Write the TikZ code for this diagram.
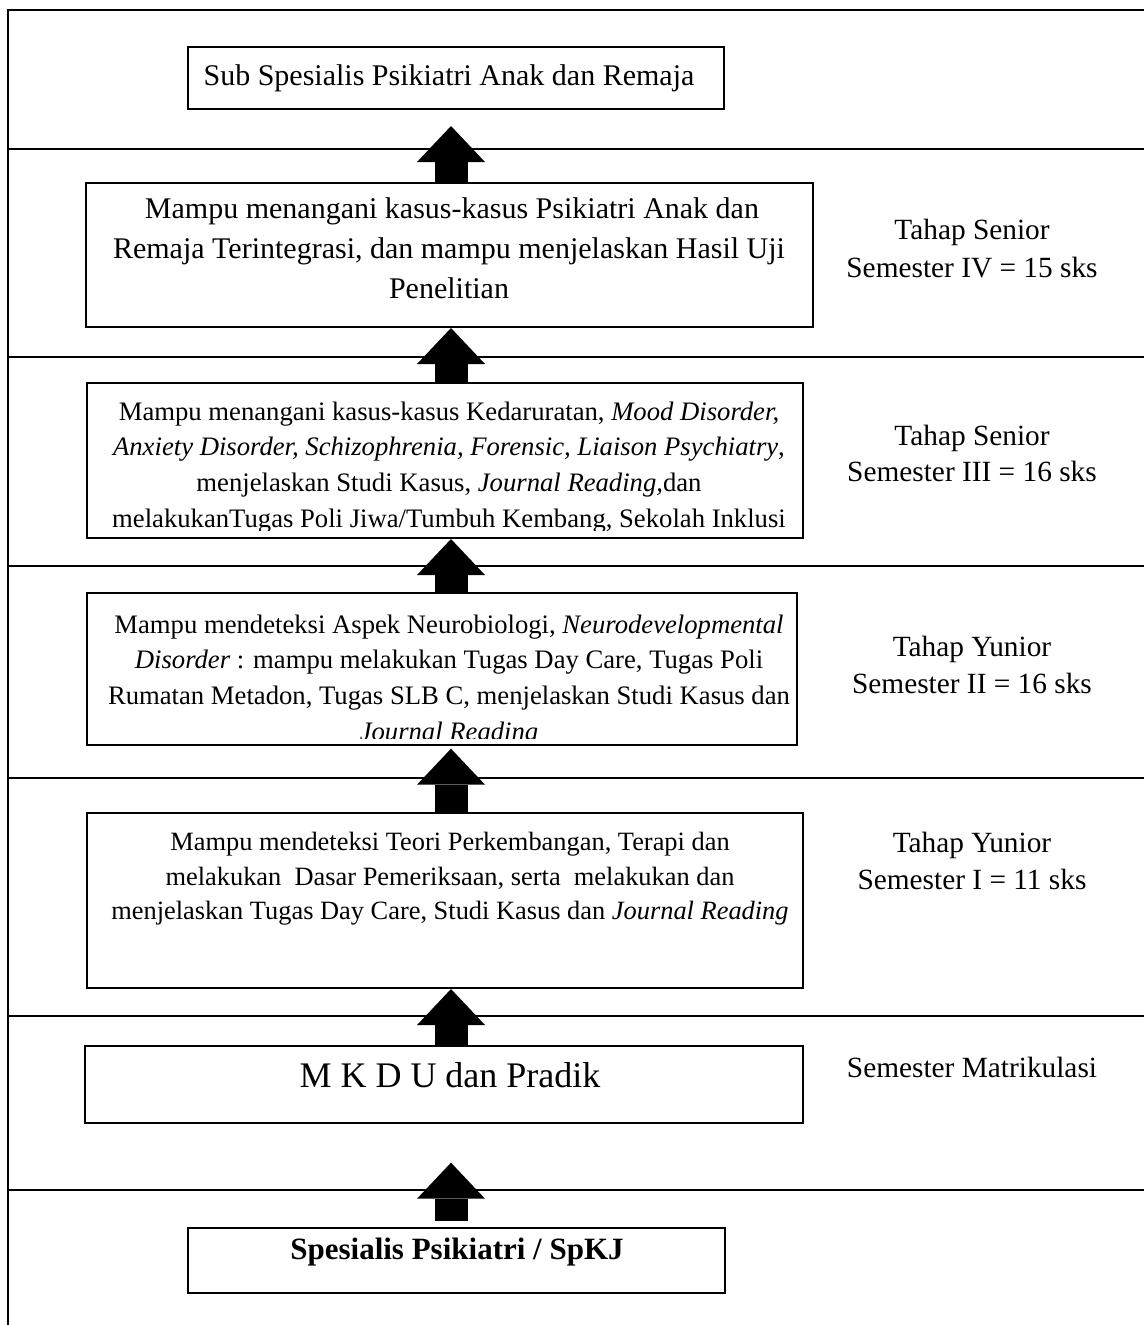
\documentclass[tikz,border=0pt]{standalone}
\usepackage{fontspec}
\setmainfont{Liberation Serif}
\usetikzlibrary{arrows.meta,fit}
\begin{document}
\begin{tikzpicture}[x=0.75pt,y=-0.75pt,
  frameline/.style={line width=2pt},
  boxnode/.style={draw, line width=1.5pt, inner sep=0pt},
  bigarrow/.style={line width=24.75pt, -{Triangle[length=27pt,width=51pt,line width=0pt]}},
  big/.style={anchor=base, inner sep=0pt, font=\fontsize{22.5}{27}\selectfont},
  sm/.style={anchor=base, inner sep=0pt, font=\fontsize{20}{24}\selectfont},
  lbl/.style={anchor=base, inner sep=0pt, font=\fontsize{22}{26}\selectfont},
  ]
\useasboundingbox (0,0) rectangle (1144,1325);
% frame and row separators
\coordinate (fl) at (8,10);
\coordinate (axis) at (451,0);
\draw[frameline] (8,1325) -- (fl) -- (1144,10);
\foreach \y in {149,357,566,778,1016,1190}
  \draw[frameline] (8,\y) -- (1144,\y);

% boxes
\node[boxnode, fit={(188,47) (724,109)}] (b1) {};
\node[boxnode, fit={(86,183) (813,327)}] (b2) {};
\node[boxnode, fit={(87,383) (803,538)}] (b3) {};
\node[boxnode, fit={(87,593) (797,745)}] (b4) {};
\node[boxnode, fit={(87,813) (803,988)}] (b5) {};
\node[boxnode, fit={(85,1046) (803,1123)}] (b6) {};
\node[boxnode, fit={(188,1228) (725,1293)}] (b7) {};

% texts
\node[big] (t1) at (449,85) {Sub Spesialis Psikiatri Anak dan Remaja};

\node[big] (t2a) at (452,218) {Mampu menangani kasus-kasus Psikiatri Anak dan};
\node[big] (t2b) at (449,258) {Remaja Terintegrasi, dan mampu menjelaskan Hasil Uji};
\node[big] (t2c) at (449,298) {Penelitian};

\begin{scope}
\clip (87,383) rectangle (803,530);
\node[sm] (t3a) at (449,420) {Mampu menangani kasus-kasus Kedaruratan, \textit{Mood Disorder,}};
\node[sm] (t3b) at (449,455.7) {\textit{Anxiety Disorder, Schizophrenia, Forensic, Liaison Psychiatry},};
\node[sm] (t3c) at (449,491.3) {menjelaskan Studi Kasus, \textit{Journal Reading,}dan};
\node[sm] (t3d) at (449,527) {melakukanTugas Poli Jiwa/Tumbuh Kembang, Sekolah Inklusi};
\end{scope}

\begin{scope}
\clip (87,593) rectangle (797,738);
\node[sm] (t4a) at (449,633) {Mampu mendeteksi Aspek Neurobiologi, \textit{Neurodevelopmental}};
\node[sm] (t4b) at (449,668.7) {\textit{Disorder} : mampu melakukan Tugas Day Care, Tugas Poli};
\node[sm] (t4c) at (449,704.3) {Rumatan Metadon, Tugas SLB C, menjelaskan Studi Kasus dan};
\node[sm] (t4d) at (449,740) {\textit{Journal Reading}};
\end{scope}

\node[sm, font=\fontsize{19.8}{24}\selectfont] (t5a) at (450,850) {Mampu mendeteksi Teori Perkembangan, Terapi dan};
\node[sm, font=\fontsize{19.8}{24}\selectfont] (t5b) at (450,885) {melakukan\ \ Dasar Pemeriksaan, serta\ \ melakukan dan};
\node[sm, font=\fontsize{19.8}{24}\selectfont] (t5c) at (450,919) {menjelaskan Tugas Day Care, Studi Kasus dan \textit{Journal Reading}};

\node[anchor=base, inner sep=0pt, font=\fontsize{27}{31}\selectfont] (t6) at (450,1087) {M K D U dan Pradik};
\node[anchor=base, inner sep=0pt, font=\fontsize{23.25}{28}\selectfont\bfseries] (t7) at (457,1259) {Spesialis Psikiatri / SpKJ};

% right labels
\node[lbl] (r2a) at (972,239) {Tahap Senior};
\node[lbl] (r2b) at (972,277) {Semester IV = 15 sks};
\node[lbl] (r3a) at (972,445) {Tahap Senior};
\node[lbl] (r3b) at (972,481) {Semester III = 16 sks};
\node[lbl] (r4a) at (972,656) {Tahap Yunior};
\node[lbl] (r4b) at (972,693) {Semester II = 16 sks};
\node[lbl] (r5a) at (972,852) {Tahap Yunior};
\node[lbl] (r5b) at (972,889) {Semester I = 11 sks};
\node[lbl] (r6) at (972,1077) {Semester Matrikulasi};

% arrows
\draw[bigarrow, shorten >=12pt] (b2.north -| axis) -- (b1.south -| axis);
\draw[bigarrow] (b3.north -| axis) -- (b2.south -| axis);
\draw[bigarrow] (b4.north -| axis) -- (b3.south -| axis);
\draw[bigarrow, shorten >=2pt] (b5.north -| axis) -- (b4.south -| axis);
\draw[bigarrow] (b6.north -| axis) -- (b5.south -| axis);
\draw[bigarrow, shorten <=4.5pt, shorten >=29pt] (b7.north -| axis) -- (b6.south -| axis);
\end{tikzpicture}
\end{document}
